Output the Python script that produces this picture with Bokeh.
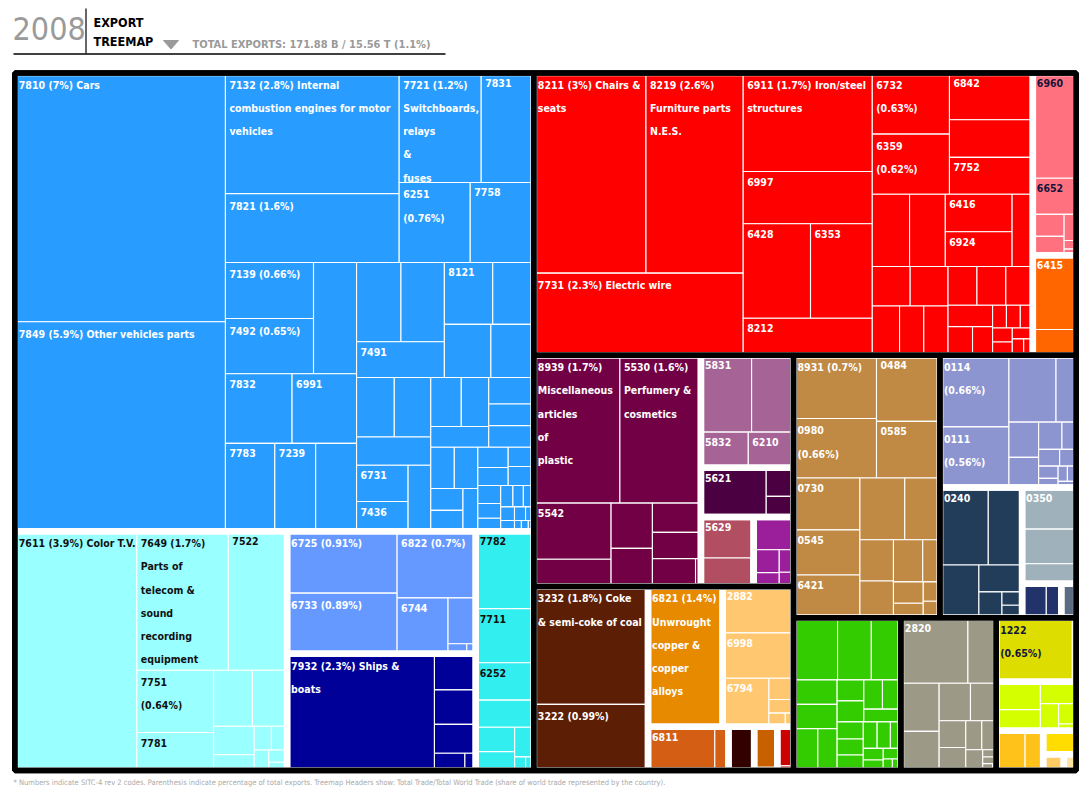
from bokeh.plotting import figure
from bokeh.models import ColumnDataSource, Range1d, Label
from bokeh.embed import file_html
from bokeh.resources import INLINE
from bokeh.core.properties import value

FONT = "'DejaVu Sans Condensed', 'DejaVu Sans', sans-serif"

# ---------------------------------------------------------------- data
# values are shares of total exports (%)
blue_values = [7.0, 5.9, 2.8, 1.6, 1.2, 0.77, 0.76, 0.68, 0.66, 0.65, 0.64, 0.62, 0.60, 0.58,
               0.48, 0.48, 0.47, 0.46, 0.42, 0.40, 0.34, 0.33, 0.305, 0.30, 0.29, 0.28, 0.25,
               0.205, 0.20, 0.20, 0.18, 0.16, 0.16, 0.13, 0.13, 0.13, 0.13, 0.094, 0.09, 0.085,
               0.082, 0.073, 0.066, 0.065, 0.055, 0.045, 0.04, 0.035, 0.03, 0.03, 0.025, 0.02,
               0.02, 0.015, 0.01, 0.01, 0.008]
blue_labels = ["7810 (7%) Cars", "7849 (5.9%) Other vehicles parts",
               "7132 (2.8%) Internal\ncombustion engines for motor\nvehicles", "7821 (1.6%)",
               "7721 (1.2%)\nSwitchboards,\nrelays\n&\nfuses", "7831", "6251\n(0.76%)", "7758",
               "7139 (0.66%)", "7492 (0.65%)", "", "7832", "6991", "7783", "7239", "", "", "",
               "7491", "8121", "", "", "", "", "", "", "6731", "7436"] + [""] * 29

cyan_values = [3.9, 1.7, 1.09, 0.64, 0.39, 0.29, 0.26, 0.155, 0.085, 0.055, 0.05, 0.04, 0.03, 0.02]
cyan_labels = ["7611 (3.9%) Color T.V.",
               "7649 (1.7%)\nParts of\ntelecom &\nsound\nrecording\nequipment",
               "7522", "7751\n(0.64%)", "7781"] + [""] * 9

peri_values = [0.91, 0.89, 0.7, 0.38, 0.17, 0.025, 0.012]
peri_labels = ["6725 (0.91%)", "6733 (0.89%)", "6822 (0.7%)", "6744", "", "", ""]

navy_values = [2.3, 0.20, 0.19, 0.16, 0.07, 0.025]
navy_labels = ["7932 (2.3%) Ships &\nboats", "", "", "", "", ""]

turq_values = [0.60, 0.42, 0.29, 0.21, 0.127, 0.098, 0.076, 0.02, 0.015]
turq_labels = ["7782", "7711", "6252", "", "", "", "", "", ""]

red_values = [3.0, 2.6, 2.3, 1.7, 0.90, 0.85, 0.78, 0.64, 0.63, 0.62, 0.52, 0.42, 0.41,
              0.36, 0.345, 0.335, 0.31, 0.20, 0.20, 0.20, 0.18, 0.16, 0.16, 0.15, 0.15, 0.14,
              0.127, 0.094, 0.077, 0.042, 0.042, 0.038, 0.037, 0.035, 0.03, 0.025, 0.02]
red_labels = ["8211 (3%) Chairs &\nseats", "8219 (2.6%)\nFurniture parts\nN.E.S.",
              "7731 (2.3%) Electric wire", "6911 (1.7%) Iron/steel\nstructures", "6997", "6428",
              "6353", "8212", "6732\n(0.63%)", "6359\n(0.62%)", "6842", "", "7752", "", "",
              "6416", "6924"] + [""] * 20

pink_values = [0.61, 0.21, 0.092, 0.079, 0.042, 0.014, 0.01]
pink_labels = ["6960", "6652", "", "", "", "", ""]

orange_values = [0.43, 0.15]
orange_labels = ["6415", ""]

magenta_values = [1.7, 1.6, 0.58, 0.28, 0.25, 0.21, 0.19, 0.17, 0.16, 0.02]
magenta_labels = ["8939 (1.7%)\nMiscellaneous\narticles\nof\nplastic",
                  "5530 (1.6%)\nPerfumery &\ncosmetics", "5542"] + [""] * 7

mauve_values = [0.52, 0.43, 0.225, 0.215]
mauve_labels = ["5831", "", "5832", "6210"]

dpurple_values = [0.43, 0.105, 0.075]
dpurple_labels = ["5621", "", ""]

rose_values = [0.29, 0.19, 0.01]
rose_labels = ["5629", "", ""]

violet_values = [0.175, 0.078, 0.047, 0.043, 0.027]
violet_labels = [""] * 5

brown_values = [1.8, 0.99, 0.02]
brown_labels = ["3232 (1.8%) Coke\n& semi-coke of coal", "3222 (0.99%)", ""]

copper_values = [1.4]
copper_labels = ["6821 (1.4%)\nUnwrought\ncopper &\ncopper\nalloys"]

lorange_values = [0.44, 0.43, 0.30, 0.07, 0.045, 0.03, 0.015]
lorange_labels = ["2882", "6998", "6794", "", "", "", ""]

burnt_values = [0.39, 0.08]
burnt_labels = ["6811", ""]

dbrown_values = [0.15]
dorange_values = [0.125, 0.01]
dred_values = [0.085, 0.01]

tan_values = [0.7, 0.66, 0.56, 0.48, 0.46, 0.40, 0.38, 0.37, 0.29, 0.185, 0.165, 0.165,
              0.097, 0.085, 0.058, 0.043, 0.037]
tan_labels = ["8931 (0.7%)", "0980\n(0.66%)", "0484", "0585", "0730", "0545", "6421"] + [""] * 10

lav_values = [0.66, 0.56, 0.42, 0.18, 0.14, 0.12, 0.085, 0.052, 0.047, 0.037, 0.032, 0.024,
              0.019, 0.018, 0.015]
lav_labels = ["0114\n(0.66%)", "0111\n(0.56%)"] + [""] * 13

slate_values = [0.50, 0.35, 0.275, 0.155, 0.08, 0.036, 0.034]
slate_labels = ["0240"] + [""] * 6

greyblue_values = [0.30, 0.25, 0.145]
greyblue_labels = ["0350", "", ""]

dblue_values = [0.11, 0.068]
slategrey_values = [0.068]

green_values = [0.365, 0.28, 0.245, 0.143, 0.141, 0.136, 0.108, 0.075, 0.075, 0.073, 0.072,
                0.063, 0.06, 0.056, 0.054, 0.049, 0.047, 0.037, 0.031, 0.028, 0.025, 0.014, 0.013]

grey_values = [0.587, 0.248, 0.246, 0.20, 0.157, 0.129, 0.095, 0.082, 0.062, 0.056, 0.047,
               0.013, 0.012, 0.009, 0.0034]
grey_labels = ["2820"] + [""] * 14

yellow_values = [0.65, 0.033]
yellow_labels = ["1222\n(0.65%)", ""]

lime_values = [0.165, 0.125, 0.105, 0.066, 0.048, 0.016]
ogold_values = [0.153, 0.096]
gold_values = [0.103]
lgold_values = [0.045]
pale_values = [0.027]

DARK = "#111111"
# (top-level group, fill colour, label colour, values, labels)
MID_GROUPS = [
    ("A", "#299DFF", "white", blue_values, blue_labels),
    ("A", "#99FFFF", DARK, cyan_values, cyan_labels),
    ("A", "#6699FF", "white", peri_values, peri_labels),
    ("A", "#000099", "white", navy_values, navy_labels),
    ("A", "#33EEEE", DARK, turq_values, turq_labels),
    ("B", "#FF0000", "white", red_values, red_labels),
    ("B", "#FF717E", "#14143C", pink_values, pink_labels),
    ("B", "#FF6600", "white", orange_values, orange_labels),
    ("C", "#720045", "white", magenta_values, magenta_labels),
    ("C", "#A66496", "white", mauve_values, mauve_labels),
    ("C", "#4B0042", "white", dpurple_values, dpurple_labels),
    ("C", "#B24E62", "white", rose_values, rose_labels),
    ("C", "#9B1F9B", "white", violet_values, violet_labels),
    ("F", "#5C1E04", "white", brown_values, brown_labels),
    ("F", "#E88A00", "white", copper_values, copper_labels),
    ("F", "#FFC870", "white", lorange_values, lorange_labels),
    ("F", "#D45F14", "white", burnt_values, burnt_labels),
    ("F", "#330000", "white", dbrown_values, None),
    ("F", "#C86000", "white", dorange_values, None),
    ("F", "#CC0000", "white", dred_values, None),
    ("D", "#C08A45", "white", tan_values, tan_labels),
    ("E", "#8C95D0", "white", lav_values, lav_labels),
    ("E", "#223D59", "white", slate_values, slate_labels),
    ("E", "#9FB1BB", "white", greyblue_values, greyblue_labels),
    ("E", "#22336B", "white", dblue_values, None),
    ("E", "#5C6B84", "white", slategrey_values, None),
    ("G", "#33CC00", "white", green_values, None),
    ("H", "#9C9987", "white", grey_values, grey_labels),
    ("I", "#DDDD00", "#14143C", yellow_values, yellow_labels),
    ("I", "#D4FF00", DARK, lime_values, None),
    ("I", "#FFC21A", DARK, ogold_values, None),
    ("I", "#FFDD00", DARK, gold_values, None),
    ("I", "#FFCC66", DARK, lgold_values, None),
    ("I", "#FFE2A0", DARK, pale_values, None),
]

# ---------------------------------------------------------------- layout
X0, Y0, X1, Y1 = 14.3, 72.5, 1075.7, 770.0   # treemap area in page pixels
SPLIT = 0.4


def partition(items, x0, y0, x1, y1, out):
    """Ordered binary split: the largest items that make up >= SPLIT of the
    total go first (left / top), cut across the longer side, recursively."""
    n = len(items)
    if n == 0:
        return
    if n == 1:
        out[items[0][0]] = (x0, y0, x1, y1)
        return
    total = sum(v for _, v in items)
    acc, k = 0.0, 0
    while k < n - 1:
        acc += items[k][1]
        k += 1
        if acc >= SPLIT * total:
            break
    t = acc / total
    if (x1 - x0) >= (y1 - y0):
        xm = x0 + (x1 - x0) * t
        partition(items[:k], x0, y0, xm, y1, out)
        partition(items[k:], xm, y0, x1, y1, out)
    else:
        ym = y0 + (y1 - y0) * t
        partition(items[:k], x0, y0, x1, ym, out)
        partition(items[k:], x0, ym, x1, y1, out)


def by_size(pairs):
    return sorted(pairs, key=lambda kv: -kv[1])


top_totals = {}
for g in MID_GROUPS:
    top_totals[g[0]] = top_totals.get(g[0], 0.0) + sum(g[3])
top_rects = {}
partition(by_size(list(top_totals.items())), X0, Y0, X1, Y1, top_rects)

mid_rects = {}
for top, rect in top_rects.items():
    mids = [(i, sum(g[3])) for i, g in enumerate(MID_GROUPS) if g[0] == top]
    partition(by_size(mids), *rect, mid_rects)

leaf_rects = {}
for i, g in enumerate(MID_GROUPS):
    leaves = [((i, j), v) for j, v in enumerate(g[3])]
    partition(by_size(leaves), *mid_rects[i], leaf_rects)

leaf = dict(left=[], right=[], top=[], bottom=[], fill=[])
lab = dict(x=[], y=[], text=[], color=[])
for (i, j), (x0, y0, x1, y1) in leaf_rects.items():
    g = MID_GROUPS[i]
    leaf["left"].append(x0)
    leaf["right"].append(x1)
    leaf["top"].append(y0)
    leaf["bottom"].append(y1)
    leaf["fill"].append(g[1])
    labels = g[4]
    if labels and labels[j]:
        lab["x"].append(x0 + 4)
        lab["y"].append(y0 + 6)
        lab["text"].append(labels[j])
        lab["color"].append(g[2])


def rect_src(rects):
    vals = list(rects.values())
    return ColumnDataSource(dict(left=[r[0] for r in vals], right=[r[2] for r in vals],
                                 top=[r[1] for r in vals], bottom=[r[3] for r in vals]))


# ---------------------------------------------------------------- figure
W, H = 1090, 797
p = figure(width=W, height=H, x_range=Range1d(0, W), y_range=Range1d(H, 0),
           output_backend="svg", toolbar_location=None, min_border=0,
           x_axis_type=None, y_axis_type=None)
p.grid.visible = False
p.outline_line_color = None
p.background_fill_color = "white"
p.border_fill_color = "white"

p.quad(left="left", right="right", top="top", bottom="bottom", fill_color="fill",
       line_color="white", line_width=1.1, source=ColumnDataSource(leaf))
p.quad(left="left", right="right", top="top", bottom="bottom", fill_alpha=0,
       line_color="white", line_width=6.5, source=rect_src(mid_rects))
p.quad(left="left", right="right", top="top", bottom="bottom", fill_alpha=0,
       line_color="black", line_width=5.5, source=rect_src(top_rects))
p.quad(left=[X0], right=[X1], top=[Y0], bottom=[Y1], fill_alpha=0,
       line_color="black", line_width=5.5)

p.text(x="x", y="y", text="text", text_color="color", source=ColumnDataSource(lab),
       text_font=value(FONT), text_font_size="10.5px", text_font_style="bold",
       text_baseline="top", text_align="left", text_line_height=1.93)

# ---------------------------------------------------------------- header / footer
p.line([85.5, 85.5], [8, 53], line_color="black", line_width=1.2)
p.line([13, 445], [53.5, 53.5], line_color="black", line_width=1.3)
p.patch([163, 178, 170.5], [40, 40, 48.5], fill_color="#9a9a9a", line_color="#9a9a9a")

p.add_layout(Label(x=12, y=16, text="2008", text_font=FONT, text_font_size="32px",
                   text_color="#9a9a9a", text_baseline="top"))
p.add_layout(Label(x=93, y=14.5, text="EXPORT", text_font=FONT, text_font_size="12.5px",
                   text_font_style="bold", text_color="black", text_baseline="top"))
p.add_layout(Label(x=93, y=33.5, text="TREEMAP", text_font=FONT, text_font_size="12.5px",
                   text_font_style="bold", text_color="black", text_baseline="top"))
p.add_layout(Label(x=192, y=37, text="TOTAL EXPORTS: 171.88 B / 15.56 T (1.1%)",
                   text_font=FONT, text_font_size="11px", text_font_style="bold",
                   text_color="#9a9a9a", text_baseline="top"))
p.add_layout(Label(x=13, y=777.5,
                   text="* Numbers indicate SITC-4 rev 2 codes. Parenthesis indicate percentage of "
                        "total exports. Treemap Headers show: Total Trade/Total World Trade (share of "
                        "world trade represented by the country).",
                   text_font=FONT, text_font_size="7.5px", text_color="#aaaaaa",
                   text_baseline="top"))

open("out.html", "w").write(file_html(p, INLINE))
